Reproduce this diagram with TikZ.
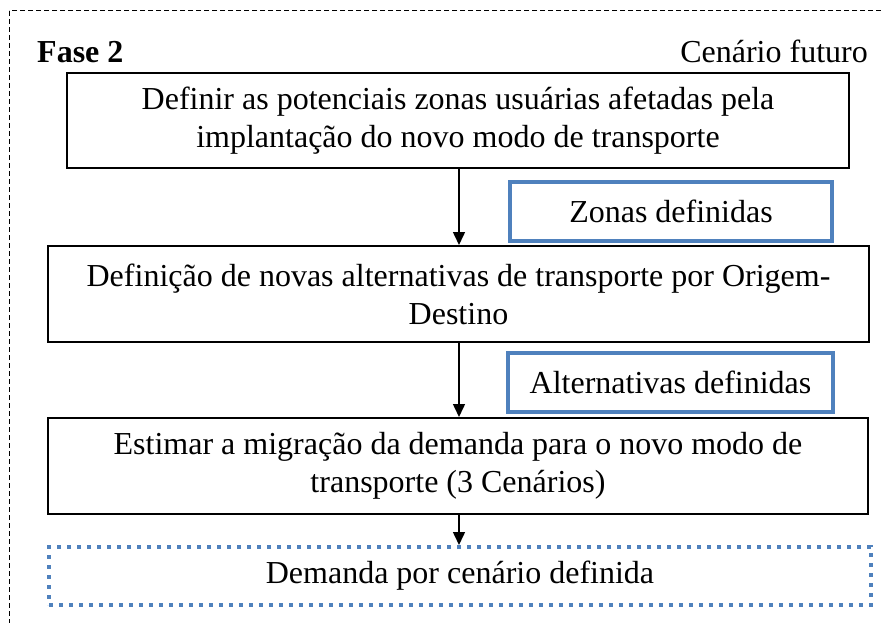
\documentclass[tikz,border=0pt]{standalone}
\usepackage{fontspec}
\setmainfont{Liberation Serif}
\usetikzlibrary{arrows.meta}
\definecolor{officeblue}{RGB}{79,129,189}
\begin{document}
\begin{tikzpicture}[x=1pt,y=-1pt,
  every node/.style={font=\fontsize{32}{38}\selectfont, inner sep=0pt},
  stepbox/.style={draw=black, line width=2pt, align=center, fill=white},
  resultbox/.style={draw=officeblue, line width=4pt, align=center, fill=white},
  dottedbox/.style={draw=officeblue, line width=4pt, dash pattern=on 4pt off 6pt, align=center},
  flow/.style={-{Triangle[width=12pt,length=13pt]}, line width=1.5pt},
  outerframe/.style={draw=black, line width=1pt, dash pattern=on 5pt off 3pt}]
\useasboundingbox (0,0) rectangle (881,623);
\draw[outerframe] (9,11) rectangle (900,660);
\node[anchor=base west, font=\fontsize{32}{38}\selectfont\bfseries] (fase) at (37,63) {Fase 2};
\node[anchor=base east] (cen) at (868,63) {Cenário futuro};
\node[stepbox, minimum width=782pt, minimum height=95pt] (b1) at (458,120.5)
  {Definir as potenciais zonas usuárias afetadas pela\\implantação do novo modo de transporte};
\node[resultbox, minimum width=322pt, minimum height=59pt] (r1) at (671,211.5) {Zonas definidas};
\node[stepbox, minimum width=821pt, minimum height=96pt] (b2) at (458.5,294)
  {Definição de novas alternativas de transporte por Origem-\\Destino};
\node[resultbox, minimum width=325pt, minimum height=59pt] (r2) at (670.5,382.5) {Alternativas definidas};
\node[stepbox, minimum width=820pt, minimum height=96pt] (b3) at (458,466)
  {Estimar a migração da demanda para o novo modo de\\transporte (3 Cenários)};
\node[dottedbox, minimum width=822pt, minimum height=58pt] (d) at (460,576) {Demanda por cenário definida};
\coordinate (ax) at (459,0);
\draw[flow] (b1.south -| ax) -- (b2.north -| ax);
\draw[flow] (b2.south -| ax) -- (b3.north -| ax);
\draw[flow] (b3.south -| ax) -- (d.north -| ax);
\end{tikzpicture}
\end{document}
